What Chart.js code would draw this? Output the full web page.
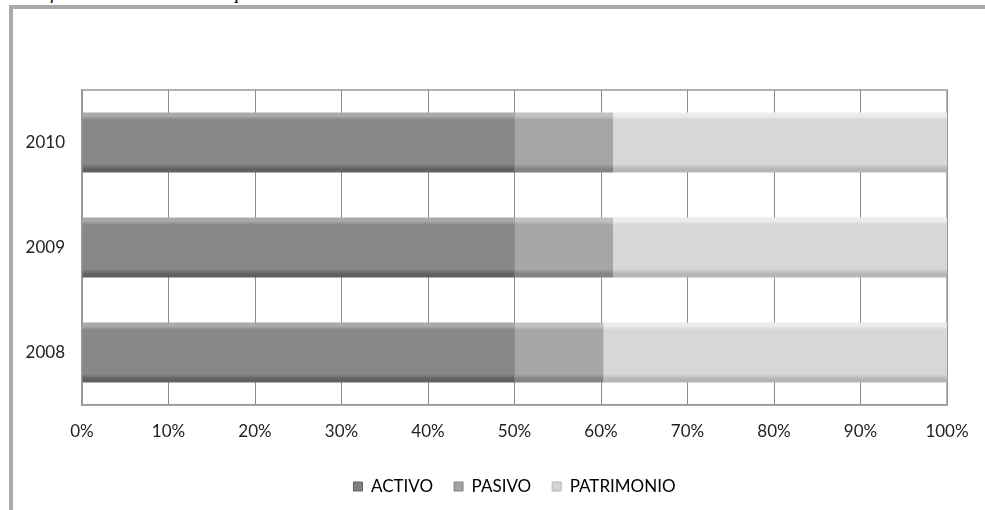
<!DOCTYPE html>
<html>
<head>
<meta charset="utf-8">
<script src="https://cdn.jsdelivr.net/npm/chart.js@4"></script>
<style>
  body { margin: 0; background: #fff; width: 985px; height: 510px; overflow: hidden; position: relative; }
  #caption { position: absolute; left: 20px; top: -18px; font: italic 19px "Liberation Serif", serif; color: #000; white-space: nowrap; }
  #frame { position: absolute; left: 9px; top: 5px; width: 980px; height: 510px; border-left: 4px solid #aaa; border-top: 4px solid #aaa; }
  #wrap { position: absolute; left: 0; top: 0; width: 985px; height: 510px; }
</style>
</head>
<body>
<div id="caption">Gráfico 4: Estructura de Capital 2008-2010</div>
<div id="frame"></div>
<div id="wrap"><canvas id="capChart" width="985" height="510"></canvas></div>
<script>
// categorias y series (% de cada barra)
const years = ["2010", "2009", "2008"];
const activo = [50, 50, 50];
const pasivo = [11.4, 11.4, 10.3];
const patrimonio = [38.6, 38.6, 39.7];
const xTicks = [0, 10, 20, 30, 40, 50, 60, 70, 80, 90, 100];

const BAR_PCT = 0.57;
const FONT = { family: "Lato", size: 17 };

// gradient vertical para dar el efecto bisel de Excel
function bevel(top, mid, bottom) {
  return (ctx) => {
    const chart = ctx.chart;
    const y = chart.scales.y;
    if (!y || ctx.dataIndex === undefined) return mid;
    const c = y.getPixelForValue(ctx.dataIndex);
    const h = (y.height / years.length) * BAR_PCT;
    const g = chart.ctx.createLinearGradient(0, c - h / 2, 0, c + h / 2);
    g.addColorStop(0, top);
    g.addColorStop(0.06, top);
    g.addColorStop(0.12, mid);
    g.addColorStop(0.86, mid);
    g.addColorStop(0.94, bottom);
    g.addColorStop(1, bottom);
    return g;
  };
}

const plotBorder = {
  id: "plotBorder",
  beforeDatasetsDraw(chart) {
    const a = chart.chartArea;
    const c = chart.ctx;
    c.save();
    c.strokeStyle = "#9a9a9a";
    c.lineWidth = 1.5;
    c.strokeRect(a.left, a.top, a.right - a.left, a.bottom - a.top);
    c.restore();
  }
};

new Chart(document.getElementById("capChart"), {
  type: "bar",
  data: {
    labels: years,
    datasets: [
      { label: "ACTIVO", data: activo, backgroundColor: bevel("#a9a9a9", "#888888", "#606060") },
      { label: "PASIVO", data: pasivo, backgroundColor: bevel("#c2c2c2", "#a6a6a6", "#838383") },
      { label: "PATRIMONIO", data: patrimonio, backgroundColor: bevel("#ececec", "#d7d7d7", "#b6b6b6") }
    ]
  },
  options: {
    indexAxis: "y",
    responsive: false,
    animation: false,
    datasets: { bar: { barPercentage: BAR_PCT, categoryPercentage: 1 } },
    layout: { padding: { top: 90, right: 38, left: 0, bottom: 5 } },
    scales: {
      x: {
        stacked: true,
        min: 0,
        max: 100,
        afterBuildTicks: (s) => { s.ticks = xTicks.map(v => ({ value: v })); },
        ticks: {
          callback: (v) => v + "%",
          color: "#222",
          font: FONT,
          padding: 16,
          maxRotation: 0
        },
        grid: { color: "#8c8c8c", lineWidth: 1, drawTicks: false },
        border: { color: "#9a9a9a", width: 1.5 },
        afterFit: (s) => { s.height = 52; }
      },
      y: {
        stacked: true,
        ticks: {
          color: "#222",
          font: FONT,
          padding: 17
        },
        grid: { display: false, drawTicks: false },
        border: { color: "#9a9a9a", width: 1.5 },
        afterFit: (s) => { s.width = 82; }
      }
    },
    plugins: {
      legend: {
        position: "bottom",
        fullSize: false,
        labels: {
          boxWidth: 9,
          boxHeight: 9,
          padding: 21,
          color: "#222",
          font: FONT,
          generateLabels: (chart) => chart.data.datasets.map((d, i) => ({
            text: d.label,
            fillStyle: ["#808080", "#a3a3a3", "#d3d3d3"][i],
            strokeStyle: ["#606060", "#838383", "#b6b6b6"][i],
            lineWidth: 1,
            datasetIndex: i
          }))
        }
      },
      tooltip: { enabled: false }
    }
  },
  plugins: [plotBorder]
});
</script>
</body>
</html>
